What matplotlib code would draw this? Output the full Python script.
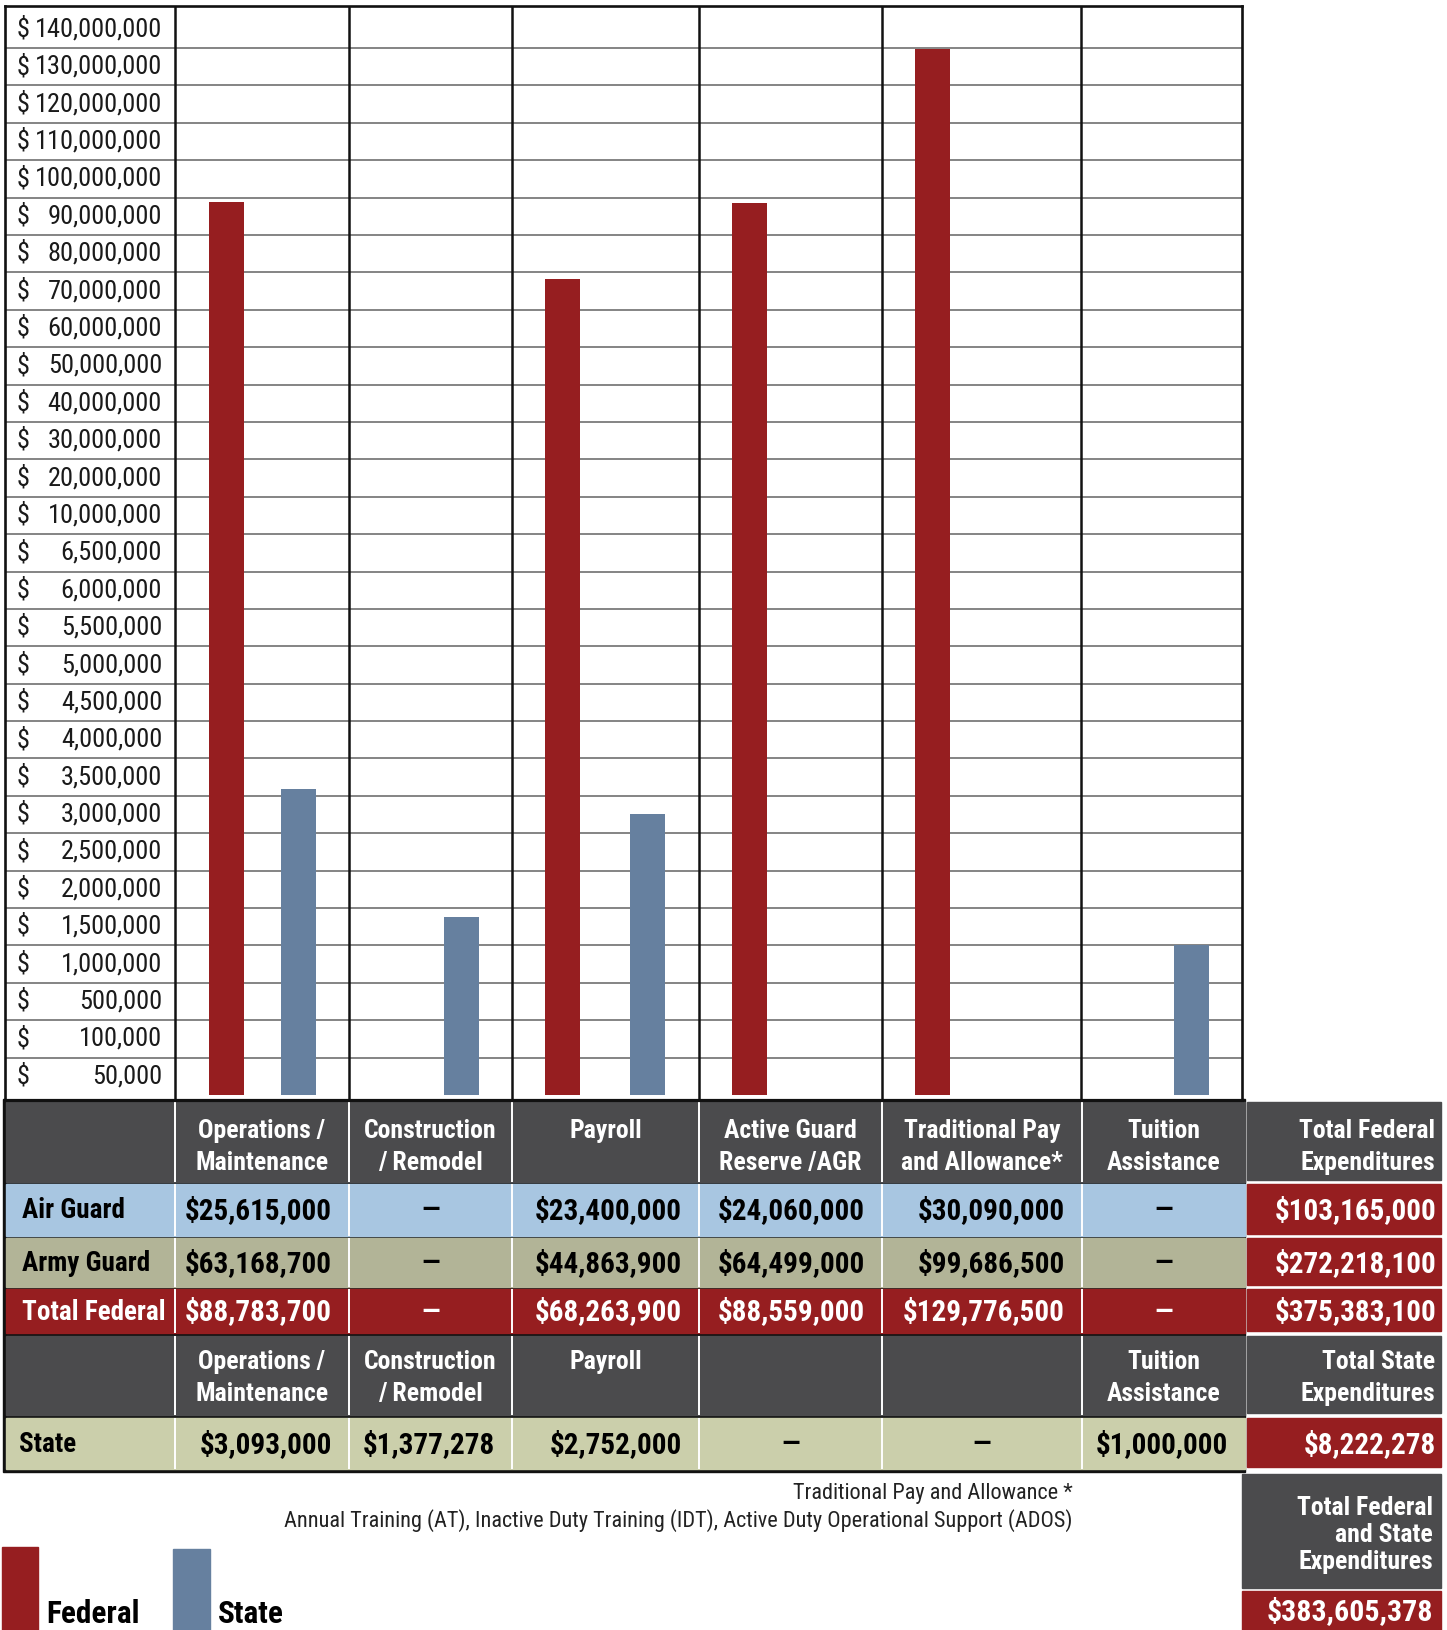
import numpy as np
import matplotlib
matplotlib.use('Agg')
import matplotlib.pyplot as plt
from matplotlib import font_manager as fm
from matplotlib.patches import Rectangle

# pick a narrow face if one is installed
avail = {f.name for f in fm.fontManager.ttflist}
NARROW = next((n for n in ['Liberation Sans Narrow', 'Roboto Condensed',
                           'Open Sans Condensed', 'DejaVu Sans'] if n in avail), 'DejaVu Sans')

# ---- data ----
categories = ['Operations /\nMaintenance', 'Construction\n/ Remodel', 'Payroll',
              'Active Guard\nReserve /AGR', 'Traditional Pay\nand Allowance*', 'Tuition\nAssistance']
air_guard = [25615000, None, 23400000, 24060000, 30090000, None]
army_guard = [63168700, None, 44863900, 64499000, 99686500, None]
state = [3093000, 1377278, 2752000, None, None, 1000000]

# y axis tick values (rows are evenly spaced, not linear)
tick_vals = [50000, 100000, 500000, 1000000, 1500000, 2000000, 2500000, 3000000,
             3500000, 4000000, 4500000, 5000000, 5500000, 6000000, 6500000,
             10000000, 20000000, 30000000, 40000000, 50000000, 60000000, 70000000,
             80000000, 90000000, 100000000, 110000000, 120000000, 130000000, 140000000]

total_fed = [None if a is None else a + b for a, b in zip(air_guard, army_guard)]
sum_air = sum(v for v in air_guard if v)
sum_army = sum(v for v in army_guard if v)
sum_fed = sum(v for v in total_fed if v)
sum_state = sum(v for v in state if v)
grand_total = sum_fed + sum_state

RED = '#961e20'
BLUE = '#66809f'
DARK = '#4b4b4d'
AIR_C = '#a8c6e1'
ARMY_C = '#b2b497'
STATE_C = '#cbcfab'

W, H = 1447, 1630
fig = plt.figure(figsize=(W / 100, H / 100), dpi=100)

# ---- chart ----
RH = 37.39  # row height in px
P0 = 1095   # pixel of value 0
knots_v = [-50000, 0] + tick_vals + [150000000]
knots_p = list(range(-1, len(tick_vals) + 2))


def fwd(v):
    return np.interp(v, knots_v, knots_p)


def inv(p):
    return np.interp(p, knots_p, knots_v)


ax = fig.add_axes([5 / W, 1 - 1100 / H, (1242 - 5) / W, (1100 - 6) / H])
ax.set_yscale('function', functions=(fwd, inv))
ax.set_xlim(5, 1242)
ax.set_ylim(inv((P0 - 1100) / RH), inv((P0 - 6) / RH))
ax.set_yticks([])
ax.set_xticks([])
ax.yaxis.set_minor_locator(matplotlib.ticker.NullLocator())
for s in ax.spines.values():
    s.set_linewidth(1.9)
    s.set_color('#111111')
ax.spines['bottom'].set_linewidth(2.3)

col_edges = [175, 349, 512, 699, 882, 1081, 1242]
fed_off = [-36, 0, -43, -41, -49, 0]     # bar offsets from column centre
state_off = [36, 31, 42, 0, 0, 30]
for v in tick_vals[:-1]:
    ax.axhline(v, color='#848484', lw=1.4, zorder=1)
for x in col_edges[:-1]:
    ax.axvline(x, color='#111111', lw=1.8, zorder=3)

for k, v in enumerate(tick_vals):
    y = inv(k + 0.5)
    ax.text(17, y, '$', ha='left', va='center', fontsize=19, family=NARROW,
            fontstretch='condensed', color='#1a1a1a')
    ax.text(162, y, f'{v:,.0f}', ha='right', va='center', fontsize=19, family=NARROW,
            fontstretch='condensed', color='#1a1a1a')

bar_w = 35
for i in range(len(categories)):
    c = (col_edges[i] + col_edges[i + 1]) / 2
    if total_fed[i]:
        ax.bar(c + fed_off[i], total_fed[i], width=bar_w, color=RED, zorder=2)
    if state[i]:
        ax.bar(c + state_off[i], state[i], width=bar_w, color=BLUE, zorder=2)

# ---- table ----
tb = fig.add_axes([0, 0, 1, 1], zorder=-1)
tb.set_xlim(0, W)
tb.set_ylim(H, 0)
tb.axis('off')


def txt(x, y, s, size, color='white', ha='center', bold=True):
    tb.text(x, y, s, fontsize=size, color=color, ha=ha, va='center', family=NARROW,
            fontstretch='condensed', fontweight='bold' if bold else 'normal')


tcols = [6, 175, 349, 512, 699, 882, 1082, 1245]
tot_l, tot_r = 1247, 1441
rows = [(1102, 1182), (1184, 1236), (1238, 1287), (1289, 1333), (1336, 1415), (1418, 1469)]
row_colors = [DARK, AIR_C, ARMY_C, RED, DARK, STATE_C]
tot_colors = [DARK, RED, RED, RED, DARK, RED]

HDR = 18.5
VAL = 21
LBL = 19.5

tb.add_patch(Rectangle((3, 1099), 1245 - 3, 1472 - 1099, color='#111111'))
for (y0, y1), rc, tc in zip(rows, row_colors, tot_colors):
    tb.add_patch(Rectangle((tcols[0], y0), tcols[-1] - tcols[0], y1 - y0, color=rc))
    tb.add_patch(Rectangle((tot_l, y0), tot_r - tot_l, y1 - y0 - 2, color=tc))
    tb.vlines(tcols[1:-1], y0, y1, color='white', lw=1.4)

# header 1
for i, cat in enumerate(categories):
    c = (tcols[i + 1] + tcols[i + 2]) / 2
    for j, line in enumerate(cat.split('\n')):
        txt(c, 1131 + 32 * j, line, HDR)
txt(1435, 1131, 'Total Federal', HDR, ha='right')
txt(1435, 1163, 'Expenditures', HDR, ha='right')


def fmt(v):
    return f'${v:,.0f}'


def value_row(vals, y, color):
    for i, v in enumerate(vals):
        l, r = tcols[i + 1], tcols[i + 2]
        if v is None:
            txt((l + r) / 2, y, '—', 20, color=color)
        else:
            txt(r - 17, y, fmt(v), VAL, color=color, ha='right')


data_rows = [('Air Guard', air_guard, sum_air, 'black'),
             ('Army Guard', army_guard, sum_army, 'black'),
             ('Total Federal', total_fed, sum_fed, 'white')]
for k, (name, vals, tot, col) in enumerate(data_rows):
    y0, y1 = rows[k + 1]
    yc = (y0 + y1) / 2 + 1
    txt(22, yc, name, LBL, color=col, ha='left')
    value_row(vals, yc, col)
    txt(1436, yc, fmt(tot), VAL, ha='right')

# header 2
for i, cat in enumerate(categories):
    if state[i] is None:
        continue
    c = (tcols[i + 1] + tcols[i + 2]) / 2
    for j, line in enumerate(cat.split('\n')):
        txt(c, 1362 + 32 * j, line, HDR)
txt(1435, 1362, 'Total State', HDR, ha='right')
txt(1435, 1394, 'Expenditures', HDR, ha='right')

y0, y1 = rows[5]
yc = (y0 + y1) / 2 + 1
txt(19, yc, 'State', LBL, color='black', ha='left')
value_row(state, yc, 'black')
txt(1436, yc, fmt(sum_state), VAL, ha='right')

# footnotes
txt(1073, 1493, 'Traditional Pay and Allowance *', 16, color='#222222', ha='right', bold=False)
txt(1073, 1521, 'Annual Training (AT), Inactive Duty Training (IDT), Active Duty Operational Support (ADOS)',
    16, color='#222222', ha='right', bold=False)

# grand total box
tb.add_patch(Rectangle((1242, 1474), 1441 - 1242, 1588 - 1474, color=DARK))
tb.add_patch(Rectangle((1242, 1591), 1441 - 1242, 1635 - 1591, color=RED))
txt(1433, 1508, 'Total Federal', HDR, ha='right')
txt(1433, 1535, 'and State', HDR, ha='right')
txt(1433, 1562, 'Expenditures', HDR, ha='right')
txt(1433, 1612, fmt(grand_total), 21.5, ha='right')

# legend
tb.add_patch(Rectangle((2, 1547), 36, 90, color=RED))
tb.add_patch(Rectangle((173, 1549), 37, 90, color=BLUE))
txt(46, 1614, 'Federal', 22.5, color='black', ha='left')
txt(218, 1614, 'State', 22.5, color='black', ha='left')

fig.savefig('out.png', dpi=100)
